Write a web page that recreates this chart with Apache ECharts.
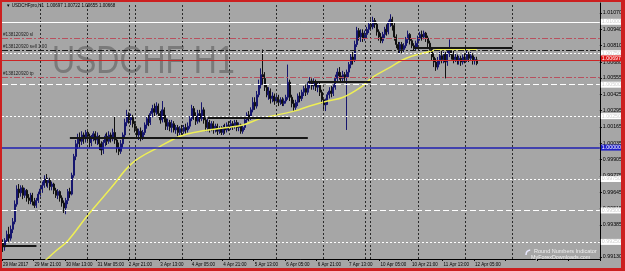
<!DOCTYPE html>
<html><head><meta charset="utf-8">
<script src="https://cdn.jsdelivr.net/npm/echarts@6/dist/echarts.min.js"></script>
<style>html,body{margin:0;padding:0;background:#a6a6a6}#c{width:625px;height:271px}</style>
</head><body><div id="c"></div>
<script>
var xLabels = ['29 Mar 2017','29 Mar 21:00','30 Mar 13:00','31 Mar 05:00','2 Apr 21:00','3 Apr 13:00','4 Apr 05:00','4 Apr 21:00','5 Apr 13:00','6 Apr 05:00','6 Apr 21:00','7 Apr 13:00','10 Apr 05:00','10 Apr 21:00','11 Apr 13:00','12 Apr 05:00'];
var yLabels = [0.99130,0.99255,0.99385,0.99515,0.99645,0.99775,0.99905,1.00035,1.00165,1.00295,1.00425,1.00555,1.00680,1.00810,1.00940,1.01070];

var opens = [.9924,.9921,.9926,.9931,.9928,.9935,.9941,.9955,.9967,.9964,
.9968,.9962,.9966,.9960,.9958,.9962,.9957,.9954,.9958,.9963,
.9967,.9970,.9975,.9972,.9974,.9969,.9971,.9966,.9962,.9965,
.9960,.9956,.9952,.9958,.9965,.9963,.9978,.9993,1.0003,1.0008,
1.0005,1.0010,1.0007,1.0012,1.0009,1.0004,1.0008,1.0011,1.0006,1.0009,
1.0003,.9998,1.0004,1.0009,1.0005,1.0010,1.0007,1.0012,1.0006,1.0000,
.9997,1.0003,1.0010,1.0020,1.0026,1.0022,1.0024,1.0019,1.0015,1.0010,
1.0013,1.0008,1.0012,1.0018,1.0023,1.0020,1.0027,1.0031,1.0028,1.0033,
1.0027,1.0022,1.0030,1.0023,1.0017,1.0020,1.0016,1.0019,1.0014,1.0016,
1.0012,1.0015,1.0013,1.0016,1.0014,1.0017,1.0023,1.0031,1.0025,1.0021,
1.0027,1.0023,1.0030,1.0022,1.0016,1.0020,1.0015,1.0019,1.0014,1.0017,
1.0013,1.0015,1.0012,1.0016,1.0014,1.0018,1.0016,1.0019,1.0017,1.0020,
1.0016,1.0018,1.0013,1.0016,1.0022,1.0026,1.0024,1.0030,1.0036,1.0033,
1.0042,1.0050,1.0058,1.0055,1.0048,1.0042,1.0045,1.0039,1.0041,1.0037,
1.0040,1.0036,1.0038,1.0035,1.0037,1.0040,1.0052,1.0040,1.0035,1.0032,
1.0036,1.0041,1.0039,1.0044,1.0047,1.0044,1.0050,1.0053,1.0049,1.0052,
1.0048,1.0050,1.0044,1.0038,1.0034,1.0037,1.0042,1.0045,1.0043,1.0048,
1.0055,1.0060,1.0057,1.0055,1.0058,1.0056,1.0060,1.0066,1.0072,1.0070,
1.0082,1.0093,1.0088,1.0091,1.0087,1.0090,1.0094,1.0098,1.0096,1.0101,
1.0098,1.0092,1.0088,1.0085,1.0090,1.0094,1.0092,1.0099,1.0102,1.0097,
1.0088,1.0082,1.0078,1.0082,1.0078,1.0081,1.0086,1.0090,1.0085,1.0081,
1.0079,1.0083,1.0087,1.0090,1.0088,1.0091,1.0087,1.0083,1.0078,1.0072,
1.0068,1.0064,1.0069,1.0073,1.0070,1.0074,1.0068,1.0075,1.0078,1.0074,
1.0070,1.0072,1.0069,1.0071,1.0068,1.0072,1.0070,1.0074,1.0071,1.0073,
1.0069,1.00697];
var highs = [.9927,.9928,.9934,.9937,.9938,.9944,.9958,.9970,.9971,.9970,
.9970,.9968,.9967,.9963,.9964,.9964,.9960,.9960,.9965,.9969,
.9973,.9978,.9979,.9976,.9976,.9973,.9972,.9968,.9967,.9966,
.9962,.9958,.9960,.9967,.9968,.9980,.9995,1.0006,1.0011,1.0012,
1.0013,1.0012,1.0014,1.0014,1.0011,1.0010,1.0013,1.0013,1.0012,1.0010,
1.0005,1.0006,1.0011,1.0012,1.0013,1.0012,1.0015,1.0025,1.0008,1.0004,
1.0006,1.0012,1.0023,1.0030,1.0028,1.0027,1.0026,1.0021,1.0017,1.0015,
1.0016,1.0014,1.0020,1.0025,1.0026,1.0029,1.0034,1.0035,1.0036,1.0035,
1.0029,1.0037,1.0032,1.0026,1.0023,1.0022,1.0022,1.0021,1.0018,1.0018,
1.0017,1.0018,1.0018,1.0019,1.0020,1.0025,1.0034,1.0033,1.0028,1.0030,
1.0030,1.0036,1.0032,1.0024,1.0023,1.0022,1.0021,1.0021,1.0019,1.0019,
1.0017,1.0017,1.0018,1.0019,1.0020,1.0021,1.0022,1.0021,1.0022,1.0022,
1.0020,1.0019,1.0018,1.0024,1.0028,1.0029,1.0032,1.0040,1.0040,1.0045,
1.0054,1.0063,1.0078,1.0060,1.0050,1.0048,1.0047,1.0044,1.0043,1.0042,
1.0042,1.0040,1.0040,1.0039,1.0042,1.0066,1.0054,1.0042,1.0038,1.0038,
1.0043,1.0044,1.0046,1.0049,1.0050,1.0052,1.0056,1.0055,1.0055,1.0054,
1.0052,1.0052,1.0046,1.0040,1.0039,1.0044,1.0048,1.0049,1.0050,1.0058,
1.0063,1.0064,1.0060,1.0061,1.0060,1.0062,1.0068,1.0075,1.0076,1.0085,
1.0096,1.0095,1.0094,1.0094,1.0093,1.0096,1.0100,1.0102,1.0104,1.0103,
1.0100,1.0094,1.0091,1.0092,1.0096,1.0098,1.0101,1.0106,1.0104,1.0099,
1.0090,1.0084,1.0084,1.0084,1.0083,1.0088,1.0093,1.0091,1.0087,1.0083,
1.0085,1.0089,1.0092,1.0093,1.0093,1.0092,1.0089,1.0085,1.0080,1.0075,
1.0071,1.0072,1.0076,1.0077,1.0076,1.0076,1.0078,1.0086,1.0080,1.0077,
1.0075,1.0074,1.0073,1.0073,1.0074,1.0075,1.0077,1.0076,1.0076,1.0075,
1.0072,1.00722];
var lows = [.9917,.9918,.9924,.9925,.9926,.9932,.9939,.9953,.9960,.9961,
.9959,.9960,.9957,.9955,.9955,.9954,.9952,.9952,.9956,.9961,
.9964,.9968,.9969,.9968,.9966,.9966,.9963,.9960,.9959,.9957,
.9953,.9948,.9947,.9955,.9960,.9962,.9976,.9990,.9999,1.0000,
1.0002,1.0003,1.0004,1.0005,1.0000,1.0001,1.0005,1.0003,1.0002,.9998,
.9994,.9995,1.0001,1.0002,1.0003,1.0004,1.0005,1.0003,.9996,.9994,
.9995,1.0000,1.0008,1.0017,1.0019,1.0018,1.0016,1.0012,1.0007,1.0006,
1.0005,1.0006,1.0010,1.0015,1.0017,1.0018,1.0024,1.0025,1.0026,1.0024,
1.0019,1.0020,1.0020,1.0014,1.0014,1.0013,1.0012,1.0012,1.0011,1.0009,
1.0010,1.0010,1.0011,1.0011,1.0012,1.0015,1.0021,1.0022,1.0018,1.0019,
1.0020,1.0021,1.0019,1.0013,1.0013,1.0012,1.0013,1.0011,1.0012,1.0010,
1.0011,1.0010,1.0010,1.0011,1.0012,1.0013,1.0014,1.0014,1.0015,1.0013,
1.0013,1.0011,1.0011,1.0014,1.0019,1.0021,1.0022,1.0028,1.0030,1.0031,
1.0040,1.0047,1.0050,1.0045,1.0040,1.0038,1.0035,1.0036,1.0034,1.0035,
1.0033,1.0034,1.0033,1.0033,1.0035,1.0038,1.0037,1.0032,1.0029,1.0030,
1.0033,1.0036,1.0037,1.0041,1.0041,1.0042,1.0047,1.0046,1.0046,1.0045,
1.0044,1.0041,1.0035,1.0030,1.0029,1.0034,1.0039,1.0040,1.0041,1.0046,
1.0052,1.0054,1.0052,1.0052,1.0053,1.0014,1.0056,1.0063,1.0066,1.0068,
1.0080,1.0085,1.0084,1.0084,1.0085,1.0087,1.0091,1.0093,1.0094,1.0095,
1.0089,1.0085,1.0083,1.0083,1.0087,1.0089,1.0090,1.0096,1.0093,1.0085,
1.0079,1.0075,1.0075,1.0075,1.0076,1.0079,1.0083,1.0082,1.0079,1.0077,
1.0077,1.0080,1.0085,1.0085,1.0086,1.0084,1.0080,1.0075,1.0069,1.0064,
1.0061,1.0062,1.0066,1.0067,1.0067,1.0055,1.0065,1.0072,1.0070,1.0067,
1.0068,1.0066,1.0066,1.0065,1.0066,1.0067,1.0068,1.0068,1.0069,1.0066,
1.0066,1.00655];
var closes = [.9921,.9926,.9931,.9928,.9935,.9941,.9955,.9967,.9964,.9968,
.9962,.9966,.9960,.9958,.9962,.9957,.9954,.9958,.9963,.9967,
.9970,.9975,.9972,.9974,.9969,.9971,.9966,.9962,.9965,.9960,
.9956,.9952,.9958,.9965,.9963,.9978,.9993,1.0003,1.0008,1.0005,
1.0010,1.0007,1.0012,1.0009,1.0004,1.0008,1.0011,1.0006,1.0009,1.0003,
.9998,1.0004,1.0009,1.0005,1.0010,1.0007,1.0012,1.0006,1.0000,.9997,
1.0003,1.0010,1.0020,1.0026,1.0022,1.0024,1.0019,1.0015,1.0010,1.0013,
1.0008,1.0012,1.0018,1.0023,1.0020,1.0027,1.0031,1.0028,1.0033,1.0027,
1.0022,1.0030,1.0023,1.0017,1.0020,1.0016,1.0019,1.0014,1.0016,1.0012,
1.0015,1.0013,1.0016,1.0014,1.0017,1.0023,1.0031,1.0025,1.0021,1.0027,
1.0023,1.0030,1.0022,1.0016,1.0020,1.0015,1.0019,1.0014,1.0017,1.0013,
1.0015,1.0012,1.0016,1.0014,1.0018,1.0016,1.0019,1.0017,1.0020,1.0016,
1.0018,1.0013,1.0016,1.0022,1.0026,1.0024,1.0030,1.0036,1.0033,1.0042,
1.0050,1.0058,1.0055,1.0048,1.0042,1.0045,1.0039,1.0041,1.0037,1.0040,
1.0036,1.0038,1.0035,1.0037,1.0040,1.0052,1.0040,1.0035,1.0032,1.0036,
1.0041,1.0039,1.0044,1.0047,1.0044,1.0050,1.0053,1.0049,1.0052,1.0048,
1.0050,1.0044,1.0038,1.0034,1.0037,1.0042,1.0045,1.0043,1.0048,1.0055,
1.0060,1.0057,1.0055,1.0058,1.0056,1.0060,1.0066,1.0072,1.0070,1.0082,
1.0093,1.0088,1.0091,1.0087,1.0090,1.0094,1.0098,1.0096,1.0101,1.0098,
1.0092,1.0088,1.0085,1.0090,1.0094,1.0092,1.0099,1.0102,1.0097,1.0088,
1.0082,1.0078,1.0082,1.0078,1.0081,1.0086,1.0090,1.0085,1.0081,1.0079,
1.0083,1.0087,1.0090,1.0088,1.0091,1.0087,1.0083,1.0078,1.0072,1.0068,
1.0064,1.0069,1.0073,1.0070,1.0074,1.0068,1.0075,1.0078,1.0074,1.0070,
1.0072,1.0069,1.0071,1.0068,1.0072,1.0070,1.0074,1.0071,1.0073,1.0069,
1.0070,1.00668];

var maBars   = [20,27,33,43,55,66,80,90,97,114,122,131,148,156,165,173,182,188,197,205,216,222,231,241];
var maValues = [.9908,.9918,.9926,.9946,.9968,.9988,1.0001,1.0009,1.0012,1.0016,1.0018,1.0023,1.0029,1.0033,1.0037,1.0040,1.0048,1.0056,1.0064,1.0071,1.0076,1.0078,1.0078,1.0078];

var daySeparators = [19,43,64,67,91,115,139,163,184,187,211,235,259];
var whiteLevels = [1.0100,1.0075,1.0050,1.0025,0.9975,0.9950,0.9925];
var blueLevel = 1.0000;
var srLevels = [0.9922,1.0008,1.0024,1.0052,1.0079];
var srFrom   = [0,34,104,155,209];
var srTo     = [17,155,146,187,259];
var slPrice = 1.0087, orderPrice = 1.0077, tpPrice = 1.0056, askPrice = 1.00697, bidPrice = 1.00668;
var ticket = '#138120920';
var headerText = '\u25BC USDCHFpro,H1  1.00697 1.00722 1.00655 1.00668';

var N = 304;
var cats = [];
for (var i = 0; i < N; i++) cats.push(String(i));
var candles = opens.map(function (o, k) { return [o, closes[k], lows[k], highs[k]]; });
var ma = maBars.map(function (b, k) { return [b, maValues[k]]; });

var FONT = 'Liberation Sans';
var whiteTypes = ['solid', [2, 2], [6, 3], [2, 2], [2, 2], [6, 3], [2, 2]];

function boxLabel(v, bg, fg, dy) {
  return { show: true, position: 'end', distance: 1, formatter: v.toFixed(5), backgroundColor: bg,
    color: fg, fontSize: 5.3, fontFamily: FONT, padding: [1, 1, 0, 1], offset: [0, dy || 0] };
}

var backLines = [];
daySeparators.forEach(function (b) {
  backLines.push({ xAxis: b, lineStyle: { color: '#2a2a2a', type: [2, 2], width: 1 }, label: { show: false } });
});
whiteLevels.forEach(function (v, k) {
  backLines.push({ yAxis: v, lineStyle: { color: '#ffffff', type: whiteTypes[k], width: 1 }, label: boxLabel(v, '#ffffff', '#cfcfcf') });
});
backLines.push({ yAxis: blueLevel, lineStyle: { color: '#1f1fb0', type: 'solid', width: 1.6 }, label: boxLabel(blueLevel, '#1f1fc8', '#ffffff') });

var frontLines = [];
srLevels.forEach(function (v, k) {
  frontLines.push([{ coord: [srFrom[k], v] }, { coord: [srTo[k], v] }]);
});
function orderLabel(txt) {
  return { show: true, position: 'insideStartTop', distance: 1, formatter: txt, color: '#1e1e1e', fontSize: 4.6, fontFamily: FONT };
}
frontLines.push({ yAxis: slPrice, lineStyle: { color: '#b8505e', type: [6, 2, 2, 2], width: 1 }, label: orderLabel(ticket + ' sl') });
frontLines.push({ yAxis: orderPrice, lineStyle: { color: '#1a1a1a', type: [6, 2, 2, 2], width: 1 }, label: orderLabel(ticket + ' sell 1.00') });
frontLines.push({ yAxis: tpPrice, lineStyle: { color: '#b8505e', type: [6, 2, 2, 2], width: 1 }, label: orderLabel(ticket + ' tp') });
frontLines.push({ yAxis: askPrice, lineStyle: { color: '#cc2424', type: 'solid', width: 1 }, label: boxLabel(askPrice, '#e01818', '#ffffff', -1.5) });
frontLines.push({ yAxis: bidPrice, lineStyle: { opacity: 0 }, label: boxLabel(bidPrice, '#000000', '#ffffff', 1.8) });

var chart = echarts.init(document.getElementById('c'), null, { renderer: 'canvas' });
chart.setOption({
  animation: false,
  backgroundColor: '#a6a6a6',
  grid: { left: 1.5, right: 25, top: 3, bottom: 12, containLabel: false },
  xAxis: {
    type: 'category', data: cats, boundaryGap: true,
    axisLine: { show: true, lineStyle: { color: '#000', width: 1 } },
    axisTick: { show: true, length: 2, interval: function (idx) { return idx % 16 === 0; }, lineStyle: { color: '#000' } },
    axisLabel: {
      show: true, interval: function (idx) { return idx % 16 === 0; },
      formatter: function (v, idx) { return xLabels[idx / 16] || ''; },
      align: 'left', margin: 3, fontSize: 4.5, fontFamily: FONT, color: '#000'
    },
    splitLine: { show: false }
  },
  yAxis: {
    type: 'value', position: 'right', min: 0.991141, max: 1.011495, scale: true,
    axisLine: { show: true, lineStyle: { color: '#000', width: 1 } },
    axisTick: { show: true, length: 2, customValues: yLabels, lineStyle: { color: '#000' } },
    axisLabel: { show: true, customValues: yLabels, margin: 3, fontSize: 5.3, fontFamily: FONT, color: '#000',
      formatter: function (v) { return v.toFixed(5); } },
    splitLine: { show: false }
  },
  series: [
    { type: 'line', data: [], z: 1, silent: true,
      markLine: { symbol: 'none', silent: true, animation: false, precision: 6, data: backLines } },
    { type: 'candlestick', data: candles, z: 3, barWidth: 1.5, silent: true,
      itemStyle: { color: '#16166e', color0: '#111111', borderColor: '#16166e', borderColor0: '#111111', borderWidth: 1 } },
    { type: 'line', data: ma, z: 4, smooth: 0.4, showSymbol: false, silent: true,
      lineStyle: { color: '#eeee55', width: 1.5 } },
    { type: 'line', data: [], z: 5, silent: true,
      markLine: { symbol: 'none', silent: true, animation: false, precision: 6,
        lineStyle: { color: '#161616', width: 2, type: 'solid' }, label: { show: false }, data: frontLines } }
  ],
  graphic: [
    { type: 'text', x: 6, y: 5.5, z: 10, style: { text: headerText, fill: '#000', fontSize: 4.5, fontFamily: FONT, verticalAlign: 'middle' } },
    { type: 'text', x: 52, y: 63, scaleX: 0.84, z: 0, style: { text: 'USDCHF H1', fill: '#7a7a7a', fontSize: 38, fontFamily: FONT, verticalAlign: 'middle' } },
    { type: 'arc', z: 10, shape: { cx: 531, cy: 255, r: 5, startAngle: Math.PI, endAngle: Math.PI * 1.45 }, style: { stroke: '#e8e8ff', lineWidth: 1.5, fill: null } },
    { type: 'text', x: 534, y: 251.5, z: 10, style: { text: 'Round Numbers Indicator', fill: '#f0f0f0', fontSize: 5.5, fontFamily: FONT, verticalAlign: 'middle' } },
    { type: 'text', x: 531, y: 257.5, z: 10, style: { text: 'MyForexDownloads.com', fill: '#f0f0f0', fontSize: 5.4, fontFamily: FONT, verticalAlign: 'middle' } },
    { type: 'rect', z: 20, shape: { x: 0, y: 0, width: 625, height: 2 }, style: { fill: '#cc2020' } },
    { type: 'rect', z: 20, shape: { x: 0, y: 0, width: 2, height: 271 }, style: { fill: '#cc2020' } },
    { type: 'rect', z: 20, shape: { x: 621, y: 0, width: 4, height: 271 }, style: { fill: '#cc2020' } },
    { type: 'rect', z: 20, shape: { x: 0, y: 268, width: 625, height: 3 }, style: { fill: '#cc2020' } }
  ]
});
</script>
</body></html>
